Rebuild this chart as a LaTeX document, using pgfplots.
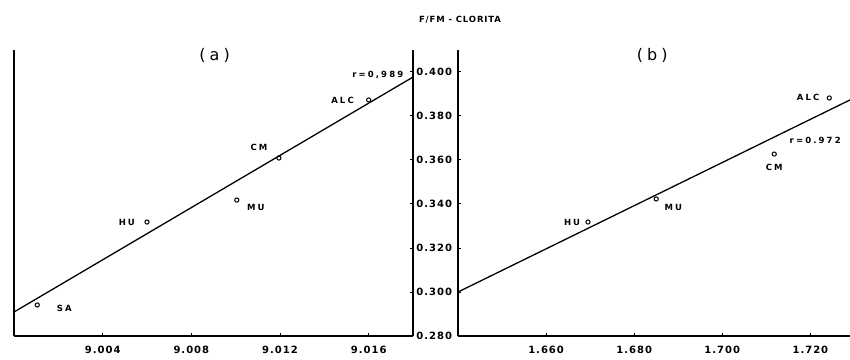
\documentclass[border=0pt]{standalone}
\usepackage{pgfplots}
\pgfplotsset{compat=1.18}
\usepackage{fontspec}
\setmainfont{DejaVu Sans}
\newfontfamily\lab[LetterSpace=10]{DejaVu Sans}
\newfontfamily\labw[LetterSpace=25]{DejaVu Sans}
\newcommand{\tk}{\lab\bfseries\fontsize{10}{12}\selectfont}
\newcommand{\pl}{\labw\bfseries\fontsize{8.5}{10}\selectfont}
\newcommand{\pn}{\labw\fontsize{16}{18}\selectfont}
\begin{document}
\begin{tikzpicture}[x=1pt,y=1pt]
\useasboundingbox (0,0) rectangle (850,359);
\pgfplotsset{every axis/.append style={
  scale only axis, line width=1.3pt, clip=false,
  axis line style={-, black, line width=1.4pt},
  tick style={black, line width=1pt},
  major tick length=3pt, tick align=inside,
  ymin=0.280, ymax=0.410,
  ytick={0.28,0.30,0.32,0.34,0.36,0.38,0.40},
  xticklabel style={font=\tk, yshift=-6pt},
  yticklabel style={font=\tk, xshift=-2pt},
}}
\begin{axis}[at={(14pt,23pt)}, anchor=south west, width=399pt, height=286pt,
  xmin=9.000, xmax=9.018,
  axis x line*=bottom, axis y line*=box, ytick pos=right,
  yticklabels={},
  xtick={9.004,9.008,9.012,9.016},
  xticklabels={9.004,9.008,9.012,9.016}]
\addplot[black, line width=1.3pt] coordinates {(9.000,0.2909) (9.018,0.3977)};
\addplot[only marks, mark=o, mark size=2.1pt, mark options={line width=1pt}, black] coordinates {
(9.00105,0.2941) (9.0060,0.3318) (9.01005,0.3418) (9.01195,0.3609) (9.0160,0.3873)};
\node[font=\pl] at (axis cs:9.01641,0.3986) {r=0,989};
\node[font=\pl] at (axis cs:9.01482,0.3873) {ALC};
\node[font=\pl] at (axis cs:9.01105,0.3659) {CM};
\node[font=\pl] at (axis cs:9.01091,0.3382) {MU};
\node[font=\pl] at (axis cs:9.00509,0.3318) {HU};
\node[font=\pl] at (axis cs:9.00227,0.2927) {SA};
\node[font=\pn] at (axis cs:9.00905,0.4077) {(a)};
\end{axis}
\begin{axis}[at={(458pt,23pt)}, anchor=south west, width=392pt, height=286pt,
  xmin=1.640, xmax=1.729,
  axis x line*=bottom, axis y line*=left,
  yticklabels={0.280,0.300,0.320,0.340,0.360,0.380,0.400},
  xtick={1.660,1.680,1.700,1.720},
  xticklabels={1.660,1.680,1.700,1.720}]
\addplot[black, line width=1.3pt] coordinates {(1.640,0.300) (1.729,0.3873)};
\addplot[only marks, mark=o, mark size=2.1pt, mark options={line width=1pt}, black] coordinates {
(1.6695,0.3318) (1.6850,0.3423) (1.7118,0.3627) (1.7243,0.3882)};
\node[font=\pl] at (axis cs:1.7195,0.3886) {ALC};
\node[font=\pl] at (axis cs:1.7211,0.3691) {r=0.972};
\node[font=\pl] at (axis cs:1.7118,0.3568) {CM};
\node[font=\pl] at (axis cs:1.6889,0.3386) {MU};
\node[font=\pl] at (axis cs:1.6659,0.3318) {HU};
\node[font=\pn] at (axis cs:1.6841,0.4077) {(b)};
\end{axis}
\node[font=\lab\bfseries\fontsize{8.5}{10}\selectfont] at (460,339) {F/FM - CLORITA};
\end{tikzpicture}
\end{document}
